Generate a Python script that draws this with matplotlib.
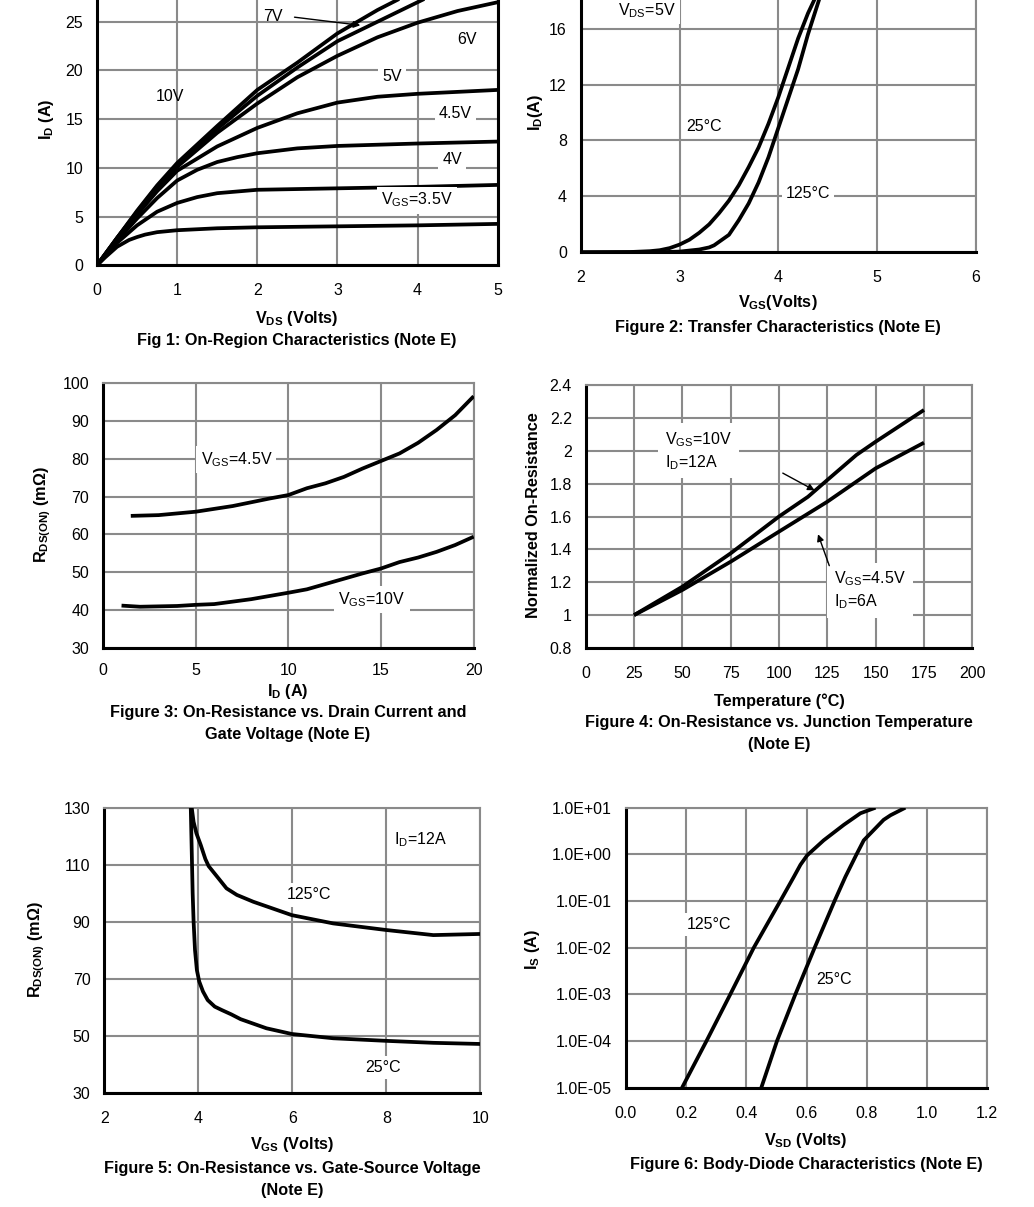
import numpy as np
import matplotlib
matplotlib.use("Agg")
import matplotlib.pyplot as plt
from matplotlib.ticker import FixedLocator, FuncFormatter

plt.rcParams['font.family'] = ['Liberation Sans', 'DejaVu Sans']
plt.rcParams['mathtext.fontset'] = 'custom'
plt.rcParams['mathtext.rm'] = 'Liberation Sans'
plt.rcParams['mathtext.it'] = 'Liberation Sans:italic'
plt.rcParams['mathtext.bf'] = 'Liberation Sans:bold'

# ---- Fig 1: on-region characteristics ----
vds_35 = [0, 0.1, 0.25, 0.4, 0.5, 0.6, 0.75, 1, 1.5, 2, 3, 4, 5]
id_35 = [0, 0.8, 1.9, 2.6, 2.9, 3.15, 3.4, 3.6, 3.8, 3.9, 4.0, 4.1, 4.25]
vds_4 = [0, 0.25, 0.5, 0.75, 1, 1.25, 1.5, 2, 3, 4, 5]
id_4 = [0, 2.3, 4.1, 5.5, 6.4, 7.0, 7.4, 7.75, 7.9, 8.05, 8.25]
vds_45 = [0, 0.25, 0.5, 0.75, 1, 1.25, 1.5, 1.75, 2, 2.5, 3, 4, 5]
id_45 = [0, 2.5, 4.8, 6.9, 8.7, 9.8, 10.6, 11.1, 11.5, 12.0, 12.25, 12.5, 12.7]
vds = [0, 0.25, 0.5, 0.75, 1, 1.5, 2, 2.5, 3, 3.5, 4, 4.5, 5]
id_5 = [0, 2.7, 5.2, 7.6, 9.7, 12.2, 14.1, 15.6, 16.7, 17.3, 17.6, 17.8, 18.0]
id_6 = [0, 2.8, 5.4, 8.0, 10.1, 13.6, 16.6, 19.3, 21.5, 23.4, 24.9, 26.1, 27.0]
vds_7 = [0, 0.25, 0.5, 0.75, 1, 1.5, 2, 2.5, 3, 3.5, 4, 4.3]
id_7 = [0, 2.8, 5.5, 8.1, 10.3, 14.0, 17.4, 20.3, 23.0, 25.0, 27.0, 28.2]
vds_10 = [0, 0.25, 0.5, 0.75, 1, 1.5, 2, 2.5, 3, 3.5, 4]
id_10 = [0, 2.8, 5.6, 8.2, 10.5, 14.3, 18.0, 20.8, 23.8, 26.2, 28.3]

# ---- Fig 2: transfer characteristics ----
vgs_25 = [2.0, 2.5, 2.7, 2.8, 2.9, 3.0, 3.1, 3.2, 3.3, 3.4, 3.5, 3.6, 3.7, 3.8, 3.9, 4.0, 4.1, 4.2, 4.3, 4.4, 4.5]
id_25c = [0, 0.02, 0.08, 0.15, 0.3, 0.55, 0.9, 1.4, 2.0, 2.8, 3.7, 4.8, 6.1, 7.5, 9.2, 11.1, 13.2, 15.3, 17.1, 18.6, 20.2]
vgs_125 = [2.0, 2.8, 3.0, 3.2, 3.3, 3.35, 3.5, 3.6, 3.7, 3.8, 3.9, 4.0, 4.1, 4.2, 4.3, 4.4, 4.5]
id_125c = [0, 0.01, 0.05, 0.2, 0.35, 0.5, 1.25, 2.3, 3.5, 5.0, 6.8, 8.9, 11.0, 13.1, 15.6, 17.8, 20.0]

# ---- Fig 3: on-resistance vs drain current ----
id_a = [1.5, 3, 5, 7, 9, 10, 11, 12, 13, 14, 15, 16, 17, 18, 19, 20]
r_45 = [64.9, 65.1, 66.0, 67.5, 69.5, 70.4, 72.2, 73.5, 75.2, 77.4, 79.4, 81.4, 84.2, 87.6, 91.5, 96.5]
id_b = [1, 2, 4, 5, 6, 8, 10, 11, 12, 13, 14, 15, 16, 17, 18, 19, 20]
r_10 = [41.2, 40.9, 41.1, 41.4, 41.6, 42.9, 44.6, 45.5, 46.9, 48.3, 49.7, 51.0, 52.7, 53.9, 55.4, 57.2, 59.4]

# ---- Fig 4: normalized on-resistance vs temperature ----
temp_a = [25, 50, 75, 100, 115, 125, 140, 150, 175]
rn_10 = [1.0, 1.173, 1.376, 1.6, 1.72, 1.822, 1.974, 2.055, 2.248]
temp_b = [25, 50, 75, 100, 125, 150, 175]
rn_45 = [1.0, 1.153, 1.325, 1.508, 1.69, 1.893, 2.049]

# ---- Fig 5: on-resistance vs gate voltage ----
vg_25 = [3.84, 3.86, 3.88, 3.90, 3.93, 3.97, 4.02, 4.1, 4.2, 4.35, 4.5, 4.7, 4.9, 5.45, 5.99, 6.87, 7.99, 9.0, 10.0]
r5_25 = [130, 115, 100, 90, 80, 73, 69, 65.5, 62.5, 60.2, 59, 57.5, 55.8, 52.6, 50.6, 49.1, 48.2, 47.5, 47.1]
vg_125 = [3.86, 3.9, 3.96, 4.05, 4.15, 4.22, 4.43, 4.60, 4.82, 5.17, 5.99, 6.87, 7.99, 9.0, 10.0]
r5_125 = [130, 125, 121, 117, 112, 109.5, 105.2, 101.7, 99.4, 97, 92.3, 89.4, 87.1, 85.3, 85.7]

# ---- Fig 6: body diode ----
vsd_125 = [0.187, 0.268, 0.347, 0.425, 0.513, 0.558, 0.58, 0.602, 0.657, 0.724, 0.779, 0.829]
is_125 = [1e-5, 1e-4, 1e-3, 1e-2, 1e-1, 0.33, 0.6, 0.95, 2.0, 4.3, 7.6, 10.0]
vsd_25 = [0.45, 0.502, 0.563, 0.627, 0.693, 0.729, 0.766, 0.79, 0.812, 0.856, 0.879, 0.928]
is_25 = [1e-5, 1e-4, 1e-3, 1e-2, 1e-1, 0.33, 1e0, 2.0, 2.8, 5.5, 6.9, 10.0]

W, H = 1034, 1207
fig = plt.figure(figsize=(W / 100, H / 100), dpi=100)

GRID = '#8a8a8a'
LW = 2.7
FS = 11.5


def make_axes(left, right, top, bottom):
    # pixel box (from top-left) -> figure axes
    return fig.add_axes([left / W, 1 - bottom / H, (right - left) / W, (bottom - top) / H])


def style(ax, right_black=False):
    ax.grid(True, color=GRID, linewidth=1.5)
    ax.set_axisbelow(True)
    for s in ['left', 'bottom']:
        ax.spines[s].set_color('black')
        ax.spines[s].set_linewidth(2.2)
    for s in ['top', 'right']:
        ax.spines[s].set_color(GRID)
        ax.spines[s].set_linewidth(1.5)
    if right_black:
        ax.spines['right'].set_color('black')
        ax.spines['right'].set_linewidth(2.2)
    ax.tick_params(length=0, labelsize=FS)
    ax.tick_params(axis='x', pad=13)
    ax.tick_params(axis='y', pad=10)


def curve(ax, x, y):
    ax.plot(x, y, color='black', lw=LW, zorder=3, solid_joinstyle='round', solid_capstyle='butt')


def ftext(x, y, s, **kw):
    fig.text(x / W, 1 - y / H, s, ha='center', va='center', fontsize=FS + 0.2, fontweight='bold', **kw)


def label(ax, x, y, s, box=True, **kw):
    bb = dict(facecolor='white', edgecolor='none', pad=3) if box else None
    ax.text(x, y, s, fontsize=FS, ha='center', va='center', bbox=bb, zorder=5, **kw)


# Fig 1
ax1 = make_axes(97, 497.7, -27, 265.3)
for v, i in [(vds_35, id_35), (vds_4, id_4), (vds_45, id_45), (vds, id_5), (vds, id_6), (vds_7, id_7), (vds_10, id_10)]:
    curve(ax1, v, i)
ax1.set_xlim(0, 5)
ax1.set_ylim(0, 30)
ax1.set_xticks(range(0, 6))
ax1.set_yticks(range(0, 26, 5))
style(ax1, right_black=True)
label(ax1, 2.2, 25.5, '7V', box=False)
ax1.annotate('', xy=(3.32, 24.6), xytext=(2.43, 25.5),
             arrowprops=dict(arrowstyle='-|>', color='black', lw=1, mutation_scale=10))
label(ax1, 4.62, 23.2, '6V')
label(ax1, 3.68, 19.4, '5V')
label(ax1, 0.91, 17.3, '10V', box=False)
label(ax1, 4.47, 15.6, '4.5V')
label(ax1, 4.43, 10.9, '4V')
label(ax1, 3.99, 6.7, r'V$_{\mathrm{GS}}$=3.5V')
ftext(47, 119, r'$\mathbf{I_D}$ (A)', rotation=90)
ftext(297, 318, r'$\mathbf{V_{DS}}$ (Volts)')
ftext(297, 341, 'Fig 1: On-Region Characteristics (Note E)')

# Fig 2
ax2 = make_axes(580.7, 976, -27.3, 252.3)
curve(ax2, vgs_25, id_25c)
curve(ax2, vgs_125, id_125c)
ax2.set_xlim(2, 6)
ax2.set_ylim(0, 20)
ax2.set_xticks(range(2, 7))
ax2.set_yticks(range(0, 17, 4))
style(ax2)
label(ax2, 2.67, 17.3, r'V$_{\mathrm{DS}}$=5V')
label(ax2, 3.25, 9.0, '25°C')
label(ax2, 4.30, 4.2, '125°C')
ftext(535, 112, r'$\mathbf{I_D}$(A)', rotation=90)
ftext(778, 303, r'$\mathbf{V_{GS}}$(Volts)')
ftext(778, 328, 'Figure 2: Transfer Characteristics (Note E)')

# Fig 3
ax3 = make_axes(103, 473.7, 383, 648)
curve(ax3, id_a, r_45)
curve(ax3, id_b, r_10)
ax3.set_xlim(0, 20)
ax3.set_ylim(30, 100)
ax3.set_xticks(range(0, 21, 5))
ax3.set_yticks(range(30, 101, 10))
style(ax3)
ax3.tick_params(axis='x', pad=11)
label(ax3, 7.2, 79.7, r'V$_{\mathrm{GS}}$=4.5V')
label(ax3, 14.5, 42.7, r'V$_{\mathrm{GS}}$=10V')
ftext(43, 515, r'$\mathbf{R_{DS(ON)}}$ (mΩ)', rotation=90)
ftext(288, 691, r'$\mathbf{I_D}$ (A)')
ftext(288, 713, 'Figure 3: On-Resistance vs. Drain Current and')
ftext(288, 735, 'Gate Voltage (Note E)')

# Fig 4
ax4 = make_axes(585.7, 972.3, 385, 648)
curve(ax4, temp_a, rn_10)
curve(ax4, temp_b, rn_45)
ax4.set_xlim(0, 200)
ax4.set_ylim(0.8, 2.4)
ax4.set_xticks(range(0, 201, 25))
ax4.set_yticks([0.8, 1, 1.2, 1.4, 1.6, 1.8, 2, 2.2, 2.4])
ax4.yaxis.set_major_formatter(FuncFormatter(lambda v, p: f'{v:g}'))
style(ax4)
ax4.text(41, 2.0, 'V$_{\\mathrm{GS}}$=10V\nI$_{\\mathrm{D}}$=12A', fontsize=FS, ha='left', va='center',
         linespacing=1.3, bbox=dict(facecolor='white', edgecolor='none', pad=5), zorder=5)
ax4.annotate('', xy=(119.7, 1.751), xytext=(100.7, 1.872),
             arrowprops=dict(arrowstyle='-|>', color='black', lw=1, mutation_scale=10), zorder=6)
ax4.text(128.5, 1.15, 'V$_{\\mathrm{GS}}$=4.5V\nI$_{\\mathrm{D}}$=6A', fontsize=FS, ha='left', va='center',
         linespacing=1.3, bbox=dict(facecolor='white', edgecolor='none', pad=5), zorder=5)
ax4.annotate('', xy=(119.7, 1.508), xytext=(126.5, 1.285),
             arrowprops=dict(arrowstyle='-|>', color='black', lw=1, mutation_scale=10), zorder=6)
ftext(533.7, 515, 'Normalized On-Resistance', rotation=90)
ftext(779, 701, 'Temperature (°C)')
ftext(779, 722, 'Figure 4: On-Resistance vs. Junction Temperature')
ftext(779, 744, '(Note E)')

# Fig 5
ax5 = make_axes(104.3, 480.3, 807.7, 1092.7)
curve(ax5, vg_25, r5_25)
curve(ax5, vg_125, r5_125)
ax5.set_xlim(2, 10)
ax5.set_ylim(30, 130)
ax5.set_xticks(range(2, 11, 2))
ax5.set_yticks(range(30, 131, 20))
style(ax5)
label(ax5, 8.72, 118.7, r'I$_{\mathrm{D}}$=12A', box=False)
label(ax5, 6.36, 99.4, '125°C')
label(ax5, 7.94, 38.9, '25°C')
ftext(36.7, 950, r'$\mathbf{R_{DS(ON)}}$ (mΩ)', rotation=90)
ftext(292, 1145, r'$\mathbf{V_{GS}}$ (Volts)')
ftext(292, 1168, 'Figure 5: On-Resistance vs. Gate-Source Voltage')
ftext(292, 1191, '(Note E)')

# Fig 6
ax6 = make_axes(625.7, 987.3, 807.7, 1087.7)
curve(ax6, vsd_125, is_125)
curve(ax6, vsd_25, is_25)
ax6.set_yscale('log')
ax6.set_xlim(0, 1.2)
ax6.set_ylim(1e-5, 1e1)
ax6.set_xticks(np.arange(0, 1.21, 0.2))
ax6.xaxis.set_major_formatter(FuncFormatter(lambda v, p: f'{v:.1f}'))
ax6.yaxis.set_major_locator(FixedLocator([1e-5, 1e-4, 1e-3, 1e-2, 1e-1, 1e0, 1e1]))
ax6.yaxis.set_minor_locator(FixedLocator([]))
ax6.yaxis.set_major_formatter(FuncFormatter(lambda v, p: f'{v:.1E}'))
style(ax6)
label(ax6, 0.275, 0.031, '125°C')
label(ax6, 0.69, 0.0021, '25°C', box=False)
ftext(532, 950, r'$\mathbf{I_S}$ (A)', rotation=90)
ftext(806, 1140, r'$\mathbf{V_{SD}}$ (Volts)')
ftext(806, 1164, 'Figure 6: Body-Diode Characteristics (Note E)')

fig.savefig('out.png', dpi=100, facecolor='white')
